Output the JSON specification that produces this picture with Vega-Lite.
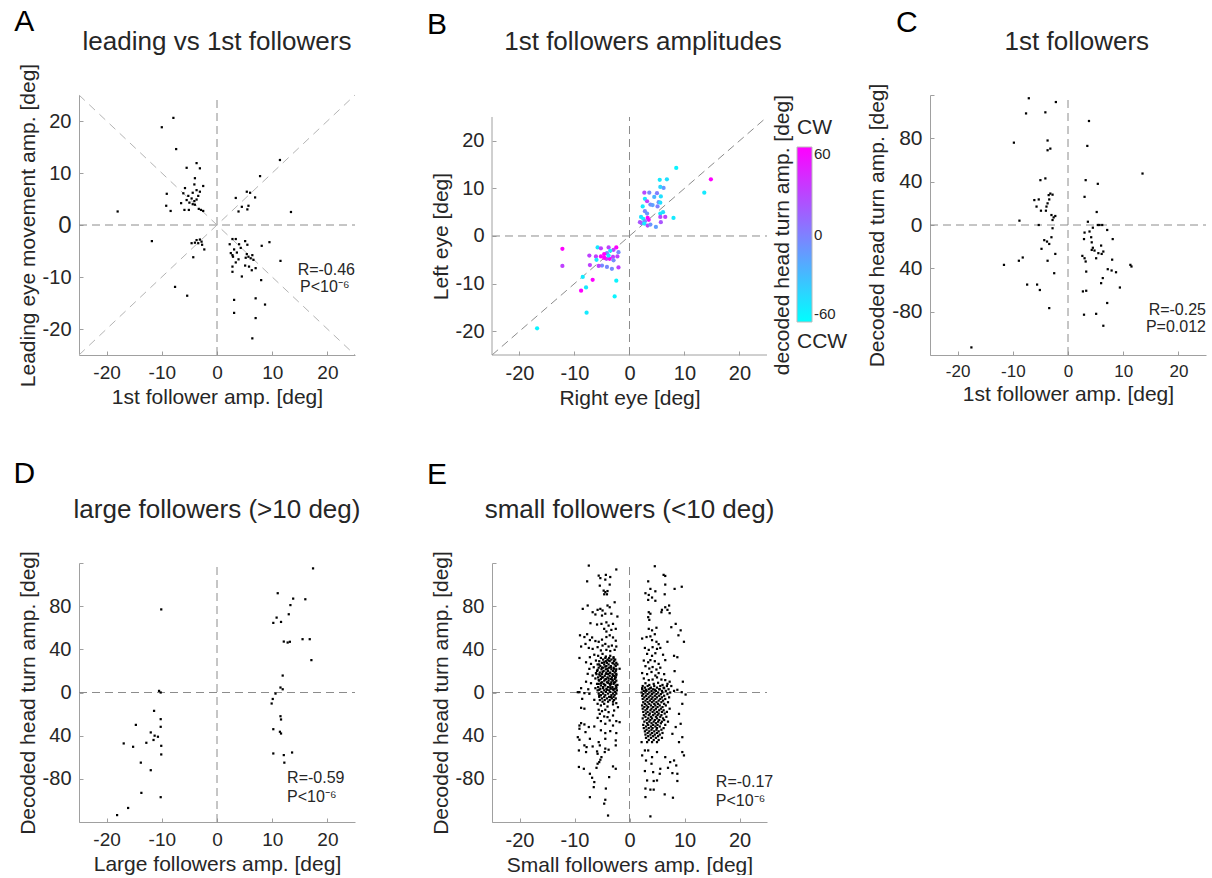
{
"$schema": "https://vega.github.io/schema/vega-lite/v6.json",
"padding": {"left": 13, "top": 7, "right": 0, "bottom": 0},
"bounds": "flush",
"columns": 3,
"spacing": {"row": 208, "column": 137},
"config": {
  "font": "Liberation Sans",
  "view": {"stroke": null},
  "axis": {"domainColor": "#a0a0a0", "tickColor": "#a0a0a0", "tickSize": -4, "grid": false, "labelOverlap": false, "labelFlush": false, "labelColor": "#262626", "titleColor": "#262626", "labelFontSize": 19, "titleFontSize": 21, "titleFontWeight": "normal", "labelFont": "Liberation Sans", "titleFont": "Liberation Sans", "labelPadding": 12, "titlePadding": 4},
  "text": {"font": "Liberation Sans", "color": "#262626"}
},
"datasets": {
"A": [{"x":-7.9,"y":20.6},{"x":-10.0,"y":18.8},{"x":-7.4,"y":14.6},{"x":-5.5,"y":11.0},{"x":-3.7,"y":11.9},{"x":-3.1,"y":10.9},{"x":-4.0,"y":9.0},{"x":-2.5,"y":7.5},{"x":-4.1,"y":7.8},{"x":-5.8,"y":7.1},{"x":-3.7,"y":6.7},{"x":-3.1,"y":6.4},{"x":-4.4,"y":6.2},{"x":-9.1,"y":6.0},{"x":-6.1,"y":6.1},{"x":-5.2,"y":5.6},{"x":-3.4,"y":5.6},{"x":-4.6,"y":5.1},{"x":-5.5,"y":4.8},{"x":-3.7,"y":4.9},{"x":-4.1,"y":4.6},{"x":-6.5,"y":4.2},{"x":-5.0,"y":4.3},{"x":-4.4,"y":4.0},{"x":-9.2,"y":3.7},{"x":-4.0,"y":3.9},{"x":-5.9,"y":2.9},{"x":-5.1,"y":2.9},{"x":-3.3,"y":3.1},{"x":-2.9,"y":2.9},{"x":-2.5,"y":2.7},{"x":-8.4,"y":2.7},{"x":-18.0,"y":2.6},
{"x":11.4,"y":12.5},{"x":7.8,"y":9.4},{"x":5.4,"y":6.4},{"x":6.0,"y":6.2},{"x":6.9,"y":5.3},{"x":3.4,"y":5.2},{"x":4.5,"y":3.5},{"x":5.7,"y":3.7},{"x":5.5,"y":3.0},{"x":3.9,"y":2.6},{"x":13.4,"y":2.5},
{"x":-11.8,"y":-3.1},{"x":-4.6,"y":-3.5},{"x":-3.7,"y":-2.9},{"x":-3.1,"y":-2.8},{"x":-2.8,"y":-3.2},{"x":-3.4,"y":-3.5},{"x":-4.0,"y":-3.4},{"x":-2.7,"y":-3.8},{"x":-2.3,"y":-4.7},{"x":-4.3,"y":-6.2},{"x":-7.6,"y":-11.9},{"x":-5.4,"y":-13.6},
{"x":2.8,"y":-2.7},{"x":3.4,"y":-2.7},{"x":2.3,"y":-3.7},{"x":4.0,"y":-3.7},{"x":5.1,"y":-3.1},{"x":4.3,"y":-4.4},{"x":5.5,"y":-3.8},{"x":9.5,"y":-3.3},{"x":8.1,"y":-4.0},{"x":2.5,"y":-5.4},{"x":2.8,"y":-5.8},{"x":3.1,"y":-4.7},{"x":3.6,"y":-5.3},{"x":2.9,"y":-6.1},{"x":3.9,"y":-6.6},{"x":3.4,"y":-7.2},{"x":2.8,"y":-8.0},{"x":2.8,"y":-9.0},{"x":5.4,"y":-5.6},{"x":5.7,"y":-6.1},{"x":5.2,"y":-6.3},{"x":6.1,"y":-6.4},{"x":6.4,"y":-5.8},{"x":6.6,"y":-6.7},{"x":5.1,"y":-7.8},{"x":5.8,"y":-8.0},{"x":7.0,"y":-8.3},{"x":6.3,"y":-8.7},{"x":4.5,"y":-9.9},{"x":8.0,"y":-10.6},{"x":11.5,"y":-6.9},{"x":3.1,"y":-14.4},{"x":3.1,"y":-16.9},{"x":7.0,"y":-14.1},{"x":8.7,"y":-15.3},{"x":7.0,"y":-17.9},{"x":6.4,"y":-21.8}],
"B": [{"x":8.5,"y":14.3,"h":-55},{"x":14.8,"y":11.9,"h":60},{"x":13.6,"y":9.1,"h":-50},{"x":5.5,"y":11.8,"h":-50},{"x":6.8,"y":11.9,"h":-45},{"x":6.2,"y":10.1,"h":-10},{"x":5.6,"y":10.3,"h":-40},{"x":2.7,"y":9.1,"h":25},{"x":3.6,"y":9.1,"h":-5},{"x":5.0,"y":9.0,"h":0},{"x":2.8,"y":7.8,"h":-50},{"x":3.2,"y":7.3,"h":30},{"x":4.5,"y":8.2,"h":-25},{"x":5.7,"y":8.3,"h":-45},{"x":5.3,"y":7.1,"h":-10},{"x":3.8,"y":6.6,"h":-5},{"x":4.2,"y":6.5,"h":-15},{"x":5.1,"y":6.2,"h":0},{"x":5.6,"y":7.0,"h":-45},{"x":2.4,"y":6.2,"h":-50},{"x":2.8,"y":5.2,"h":-5},{"x":3.2,"y":4.7,"h":-10},{"x":5.6,"y":4.7,"h":-50},{"x":6.1,"y":5.0,"h":-45},{"x":8.0,"y":3.8,"h":-50},{"x":2.1,"y":4.0,"h":-45},{"x":2.5,"y":3.6,"h":-55},{"x":3.3,"y":3.8,"h":60},{"x":3.5,"y":3.4,"h":55},{"x":2.8,"y":3.1,"h":-5},{"x":2.2,"y":2.7,"h":0},{"x":1.9,"y":2.9,"h":20},{"x":2.7,"y":2.6,"h":-50},{"x":3.3,"y":2.2,"h":25},{"x":3.8,"y":2.4,"h":-10},{"x":4.8,"y":1.9,"h":-15},{"x":5.7,"y":2.9,"h":20},{"x":6.5,"y":4.0,"h":30},{"x":5.6,"y":4.0,"h":25},
{"x":-12.2,"y":-2.7,"h":60},{"x":-12.2,"y":-6.3,"h":30},{"x":-8.5,"y":-8.6,"h":-50},{"x":-6.7,"y":-9.2,"h":60},{"x":-8.8,"y":-11.5,"h":60},{"x":-7.9,"y":-10.8,"h":-50},{"x":-7.8,"y":-16.1,"h":-50},{"x":-2.7,"y":-12.7,"h":-55},{"x":-2.4,"y":-9.4,"h":-55},{"x":-16.8,"y":-19.4,"h":-55},{"x":-5.8,"y":-2.4,"h":-50},{"x":-5.2,"y":-2.6,"h":30},{"x":-3.8,"y":-2.4,"h":30},{"x":-2.4,"y":-2.4,"h":60},{"x":-2.9,"y":-2.9,"h":30},{"x":-2.0,"y":-3.4,"h":-5},{"x":-2.2,"y":-4.3,"h":30},{"x":-3.5,"y":-3.1,"h":-50},{"x":-4.1,"y":-3.6,"h":-5},{"x":-4.6,"y":-3.8,"h":60},{"x":-5.2,"y":-4.3,"h":60},{"x":-6.1,"y":-4.3,"h":30},{"x":-7.3,"y":-4.1,"h":30},{"x":-6.0,"y":-5.0,"h":-50},{"x":-4.2,"y":-4.8,"h":30},{"x":-3.6,"y":-4.8,"h":60},{"x":-3.0,"y":-4.4,"h":30},{"x":-2.9,"y":-5.1,"h":-5},{"x":-5.0,"y":-6.2,"h":-5},{"x":-5.6,"y":-6.3,"h":30},{"x":-4.1,"y":-6.5,"h":-5},{"x":-3.2,"y":-6.9,"h":-5},{"x":-2.0,"y":-6.6,"h":30},{"x":-7.2,"y":-6.1,"h":30},{"x":-4.6,"y":-4.6,"h":60},{"x":-3.8,"y":-4.1,"h":-50}],
"C": [{"x":-7.1,"y":117},{"x":-2.2,"y":113.5},{"x":-7.6,"y":103},{"x":-4.1,"y":104},{"x":3.8,"y":96},{"x":-9.8,"y":76},{"x":3.5,"y":73},{"x":-3.7,"y":78},{"x":-3.2,"y":70.5},{"x":-3.7,"y":69},{"x":13.5,"y":47.5},{"x":-5.0,"y":41.4},{"x":-4.1,"y":43},{"x":3.2,"y":41.4},{"x":5.4,"y":38},{"x":-3.2,"y":29},{"x":-2.8,"y":28},{"x":-3.5,"y":27.6},{"x":3.0,"y":26},{"x":-6.1,"y":23},{"x":-5.3,"y":23.6},{"x":-3.4,"y":23.6},{"x":-5.7,"y":17},{"x":-3.7,"y":20},{"x":-3.9,"y":17},{"x":-4.9,"y":13.2},{"x":-4.0,"y":13.2},{"x":5.2,"y":12},{"x":-3.0,"y":9.2},{"x":-2.3,"y":8.3},{"x":-2.6,"y":7},{"x":-8.8,"y":4},{"x":-2.8,"y":4.6},{"x":3.6,"y":3},{"x":-5.3,"y":0},{"x":-2.8,"y":-3},{"x":5.4,"y":0},{"x":5.7,"y":0},{"x":6.2,"y":0},{"x":4.5,"y":-2.5},{"x":7.1,"y":-4.6},{"x":3.0,"y":-7},{"x":3.9,"y":-6},{"x":-3.0,"y":-11.3},{"x":8.1,"y":-13},{"x":2.9,"y":-13},{"x":4.2,"y":-11.3},{"x":-4.3,"y":-14},{"x":-3.8,"y":-15.3},{"x":-3.4,"y":-17.5},{"x":4.3,"y":-16},{"x":4.5,"y":-21},{"x":6.0,"y":-19},{"x":-4.8,"y":-22},{"x":4.3,"y":-23},{"x":4.8,"y":-23.6},{"x":6.4,"y":-24.5},{"x":5.5,"y":-26},{"x":6.1,"y":-26.7},{"x":-2.3,"y":-26.7},{"x":2.6,"y":-28.5},{"x":3.0,"y":-30.7},{"x":5.1,"y":-30.7},{"x":-8.2,"y":-30},{"x":-8.9,"y":-33},{"x":-3.7,"y":-33},{"x":3.2,"y":-33.7},{"x":-11.6,"y":-36.8},{"x":8.0,"y":-32},{"x":11.3,"y":-36.8},{"x":11.5,"y":-38.3},{"x":3.3,"y":-43},{"x":7.2,"y":-40.8},{"x":7.9,"y":-42},{"x":8.7,"y":-43.6},{"x":-2.5,"y":-44.5},{"x":6.3,"y":-49},{"x":-7.4,"y":-55},{"x":-5.6,"y":-55},{"x":-5.1,"y":-60},{"x":6.0,"y":-53.7},{"x":9.4,"y":-57.7},{"x":2.7,"y":-61.3},{"x":3.3,"y":-60.7},{"x":7.1,"y":-72},{"x":-3.4,"y":-76.7},{"x":2.9,"y":-82.8},{"x":5.1,"y":-82},{"x":6.4,"y":-93},{"x":-17.5,"y":-113}],
"D": [{"x":17.4,"y":115},{"x":11.0,"y":92},{"x":13.8,"y":87},{"x":16.0,"y":86.4},{"x":13.3,"y":81},{"x":-10.1,"y":77},{"x":13.0,"y":72.5},{"x":10.8,"y":69.4},{"x":11.6,"y":65.4},{"x":10.2,"y":64.5},{"x":12.1,"y":47.2},{"x":13.2,"y":47},{"x":12.8,"y":46.3},{"x":15.5,"y":49.4},{"x":16.8,"y":49.4},{"x":17.1,"y":30},{"x":11.9,"y":15.7},{"x":11.5,"y":4.6},{"x":11.9,"y":3},{"x":-10.5,"y":1.5},{"x":-10.2,"y":0},{"x":10.6,"y":-1},{"x":10.1,"y":-6},{"x":9.9,"y":-10.2},{"x":-11.4,"y":-17},{"x":11.5,"y":-22},{"x":11.6,"y":-25},{"x":-10.2,"y":-24.7},{"x":-14.7,"y":-30},{"x":-10.2,"y":-31.8},{"x":10.2,"y":-34},{"x":11.4,"y":-36.4},{"x":11.6,"y":-38},{"x":-12.0,"y":-37},{"x":-11.3,"y":-40},{"x":-10.7,"y":-41},{"x":-11.5,"y":-44},{"x":-12.8,"y":-46.6},{"x":-16.9,"y":-47.2},{"x":-15.2,"y":-50.3},{"x":-10.1,"y":-49.4},{"x":-10.1,"y":-57.4},{"x":10.2,"y":-56.5},{"x":13.6,"y":-55.6},{"x":12.1,"y":-58},{"x":12.2,"y":-65},{"x":-13.8,"y":-65},{"x":-12.0,"y":-72},{"x":-13.7,"y":-93},{"x":-10.2,"y":-97},{"x":-16.1,"y":-107},{"x":-18.1,"y":-113.6}],
"E": [{"x":-7.4,"y":117.6},{"x":-2.4,"y":114},{"x":-5.6,"y":108.3},{"x":-4.3,"y":109},{"x":-5.3,"y":106},{"x":-3.5,"y":107},{"x":-7.7,"y":103},{"x":-4.4,"y":104.6},{"x":-3.6,"y":100},{"x":-5.4,"y":99},{"x":-4.7,"y":94.4},{"x":-4.4,"y":93},{"x":-4.0,"y":94},{"x":-4.6,"y":91},{"x":-4.1,"y":91},{"x":-2.7,"y":83.6},{"x":-7.6,"y":80.6},{"x":-8.5,"y":77.5},{"x":-6.7,"y":74.4},{"x":-5.8,"y":76.6},{"x":-5.3,"y":77.5},{"x":-4.9,"y":76},{"x":-4.0,"y":80.6},{"x":-3.6,"y":79},{"x":-4.4,"y":73},{"x":-3.3,"y":73},{"x":-2.2,"y":70.4},{"x":-6.2,"y":72.3},{"x":-5.0,"y":71.3},{"x":-7.1,"y":64.2},{"x":-5.9,"y":63},{"x":-4.2,"y":65},{"x":-5.1,"y":63.6},{"x":-3.8,"y":62},{"x":-3.0,"y":63.6},{"x":-4.6,"y":59},{"x":-4.2,"y":56.5},{"x":-3.3,"y":58},{"x":-2.5,"y":59},{"x":-9.0,"y":53},{"x":-8.2,"y":51.4},{"x":-7.7,"y":54},{"x":-6.8,"y":51},{"x":-7.2,"y":48.6},{"x":-6.2,"y":47.7},{"x":-5.6,"y":47},{"x":-5.0,"y":49},{"x":-4.2,"y":51.4},{"x":-3.6,"y":53},{"x":-3.0,"y":51},{"x":-2.5,"y":48},{"x":-8.8,"y":42.6},{"x":-8.0,"y":45},{"x":-7.4,"y":41.3},{"x":-6.7,"y":40.4},{"x":-5.8,"y":42},{"x":-4.9,"y":43.5},{"x":-4.4,"y":45},{"x":-3.8,"y":42.6},{"x":-3.2,"y":43.5},{"x":-2.4,"y":42.6},{"x":-5.2,"y":39},{"x":-4.2,"y":39.5},{"x":-3.5,"y":38.4},{"x":-2.7,"y":39.5},{"x":-9.1,"y":32},{"x":-7.2,"y":32.7},{"x":-6.4,"y":35},{"x":-5.7,"y":34},{"x":-4.9,"y":35.8},{"x":-4.3,"y":33.3},{"x":-3.5,"y":34},{"x":-2.9,"y":32.7},{"x":-7.9,"y":28},{"x":-7.0,"y":26.5},{"x":-6.1,"y":29.6},{"x":-5.5,"y":26},{"x":-4.6,"y":28},{"x":-3.8,"y":29.6},{"x":-3.0,"y":27},{"x":-2.2,"y":26},{"x":-7.3,"y":21.9},{"x":-6.5,"y":23.4},{"x":-5.8,"y":21},{"x":-5.0,"y":23},{"x":-4.4,"y":24},{"x":-4.0,"y":22},{"x":-3.4,"y":23.4},{"x":-2.8,"y":22},{"x":-1.8,"y":22},{"x":-7.6,"y":17.3},{"x":-6.7,"y":15.7},{"x":-6.1,"y":18},{"x":-5.5,"y":16.7},{"x":-4.9,"y":19},{"x":-4.3,"y":17.3},{"x":-3.6,"y":18},{"x":-3.0,"y":15.7},{"x":-2.4,"y":17.3},{"x":-6.2,"y":13},{"x":-5.6,"y":11.5},{"x":-5.0,"y":14},{"x":-4.4,"y":12},{"x":-3.8,"y":13},{"x":-3.2,"y":12},{"x":-2.6,"y":14},{"x":-7.9,"y":10},{"x":-7.0,"y":8.6},{"x":-5.9,"y":8},{"x":-5.2,"y":8.6},{"x":-4.5,"y":7},{"x":-3.9,"y":9},{"x":-3.4,"y":8},{"x":-2.8,"y":9},{"x":-2.2,"y":7},{"x":-8.8,"y":4},{"x":-7.5,"y":3},{"x":-6.2,"y":4},{"x":-5.5,"y":2.5},{"x":-4.8,"y":4},{"x":-4.1,"y":2.5},{"x":-3.5,"y":4.6},{"x":-3.0,"y":3},{"x":-2.4,"y":4},{"x":-9.4,"y":0.3},
{"x":-5.2,"y":32},{"x":-4.4,"y":32},{"x":-3.7,"y":32},{"x":-2.9,"y":31.5},{"x":-4.8,"y":30.5},{"x":-4.0,"y":30.5},{"x":-3.3,"y":30.5},{"x":-2.6,"y":30.5},{"x":-5.5,"y":29},{"x":-4.3,"y":29},{"x":-3.6,"y":29},{"x":-2.8,"y":29},{"x":-5.0,"y":27.5},{"x":-4.1,"y":27.5},{"x":-3.1,"y":27.5},{"x":-2.4,"y":27.5},{"x":-5.8,"y":26},{"x":-4.6,"y":26},{"x":-3.8,"y":26},{"x":-2.7,"y":26},{"x":-5.3,"y":24.5},{"x":-4.2,"y":24.5},{"x":-3.4,"y":24.5},{"x":-2.5,"y":24.5},{"x":-5.6,"y":23},{"x":-4.8,"y":23},{"x":-3.7,"y":23},{"x":-2.9,"y":23},{"x":-5.1,"y":21.5},{"x":-4.3,"y":21.5},{"x":-3.3,"y":21.5},{"x":-2.4,"y":21.5},{"x":-5.9,"y":20},{"x":-4.7,"y":20},{"x":-3.9,"y":20},{"x":-3.0,"y":20},{"x":-2.5,"y":20},{"x":-5.4,"y":18.5},{"x":-4.2,"y":18.5},{"x":-3.5,"y":18.5},{"x":-2.7,"y":18.5},{"x":-6.0,"y":17},{"x":-5.0,"y":17},{"x":-3.9,"y":17},{"x":-3.1,"y":17},{"x":-2.4,"y":16},{"x":-5.3,"y":15.5},{"x":-4.5,"y":15.5},{"x":-3.6,"y":15.5},{"x":-2.8,"y":15.5},{"x":-5.7,"y":14},{"x":-4.8,"y":14},{"x":-4.0,"y":14},{"x":-3.2,"y":14},{"x":-2.5,"y":14},{"x":-5.2,"y":12.5},{"x":-4.3,"y":12.5},{"x":-3.4,"y":12.5},{"x":-2.7,"y":12.5},{"x":-5.5,"y":11},{"x":-4.6,"y":11},{"x":-3.8,"y":11},{"x":-3.0,"y":11},{"x":-2.4,"y":11},{"x":-5.0,"y":9.5},{"x":-4.1,"y":9.5},{"x":-3.3,"y":9.5},{"x":-2.6,"y":9.5},{"x":-5.6,"y":8},{"x":-4.7,"y":8},{"x":-3.6,"y":8},{"x":-2.9,"y":8},{"x":-5.2,"y":6.5},{"x":-4.4,"y":6.5},{"x":-3.5,"y":6.5},{"x":-2.5,"y":6.5},{"x":-5.7,"y":5},{"x":-4.8,"y":5},{"x":-3.9,"y":5},{"x":-3.1,"y":5},{"x":-2.4,"y":5.5},{"x":-5.3,"y":3.5},{"x":-4.2,"y":3.5},{"x":-3.4,"y":3.5},{"x":-2.7,"y":3.5},{"x":-5.8,"y":2},{"x":-4.6,"y":2},{"x":-3.7,"y":2},{"x":-2.9,"y":2},{"x":-2.3,"y":2},{"x":-5.1,"y":0.5},{"x":-4.3,"y":0.5},{"x":-3.5,"y":0.5},{"x":-2.6,"y":0.5},{"x":-5.6,"y":-1},{"x":-4.8,"y":-1},{"x":-3.9,"y":-1},{"x":-3.0,"y":-1},{"x":-2.4,"y":-1},{"x":-5.2,"y":-2.5},{"x":-4.4,"y":-2.5},{"x":-3.3,"y":-2.5},{"x":-2.7,"y":-2.5},{"x":-5.5,"y":-4},{"x":-4.6,"y":-4},{"x":-3.7,"y":-4},{"x":-2.9,"y":-4},{"x":-5.0,"y":-5.5},{"x":-4.1,"y":-5.5},{"x":-3.2,"y":-5.5},{"x":-2.5,"y":-5.5},{"x":-5.4,"y":-7},{"x":-4.5,"y":-7},{"x":-3.6,"y":-7},{"x":-2.8,"y":-7},{"x":-4.9,"y":-8.5},{"x":-3.9,"y":-8.5},{"x":-3.0,"y":-8.5},
{"x":-9.1,"y":0.3},{"x":-8.2,"y":-0.6},{"x":-7.3,"y":-1.2},{"x":-5.5,"y":-2.8},{"x":-3.4,"y":-4.3},{"x":-8.6,"y":-5.9},{"x":-6.4,"y":-6.8},{"x":-5.8,"y":-10.5},{"x":-5.2,"y":-12},{"x":-4.6,"y":-10.5},{"x":-4.0,"y":-13},{"x":-3.0,"y":-11},{"x":-2.4,"y":-9.9},{"x":-2.1,"y":-13.6},{"x":-8.8,"y":-14.2},{"x":-8.2,"y":-15},{"x":-5.6,"y":-16},{"x":-5.0,"y":-17.3},{"x":-4.4,"y":-16},{"x":-3.8,"y":-18.2},{"x":-2.8,"y":-16.7},{"x":-5.4,"y":-19.8},{"x":-4.6,"y":-22.2},{"x":-5.8,"y":-23.5},{"x":-4.0,"y":-22.8},{"x":-3.0,"y":-21.3},{"x":-5.2,"y":-26.5},{"x":-3.6,"y":-25.9},{"x":-2.4,"y":-26.5},{"x":-1.8,"y":-27.5},{"x":-8.8,"y":-28.4},{"x":-9.1,"y":-30.6},{"x":-8.2,"y":-29.6},{"x":-7.4,"y":-32},{"x":-6.4,"y":-31.5},{"x":-4.4,"y":-29},{"x":-3.0,"y":-30.6},{"x":-9.1,"y":-33.6},{"x":-8.0,"y":-36.7},{"x":-5.2,"y":-35},{"x":-4.4,"y":-37.6},{"x":-3.5,"y":-35.8},{"x":-2.4,"y":-37.6},{"x":-9.4,"y":-41.4},{"x":-9.1,"y":-43.8},{"x":-7.2,"y":-42.9},{"x":-5.6,"y":-46},{"x":-4.4,"y":-42.9},{"x":-2.5,"y":-44.4},{"x":-8.2,"y":-49},{"x":-7.8,"y":-50.6},{"x":-6.7,"y":-50},{"x":-5.4,"y":-49},{"x":-4.4,"y":-52},{"x":-3.8,"y":-53},{"x":-2.5,"y":-49},{"x":-9.2,"y":-53.7},{"x":-7.9,"y":-55.2},{"x":-5.9,"y":-54.6},{"x":-5.8,"y":-56.8},{"x":-4.5,"y":-55.2},{"x":-5.1,"y":-59.9},{"x":-5.3,"y":-62.3},{"x":-5.5,"y":-64.5},{"x":-5.8,"y":-66},{"x":-9.2,"y":-69},{"x":-8.3,"y":-70.7},{"x":-6.0,"y":-69.8},{"x":-3.0,"y":-68.5},{"x":-2.5,"y":-70.7},{"x":-7.2,"y":-75.3},{"x":-6.8,"y":-79},{"x":-6.4,"y":-83},{"x":-6.5,"y":-87.7},{"x":-3.7,"y":-78.4},{"x":-4.3,"y":-89},{"x":-7.2,"y":-97},{"x":-4.4,"y":-99.4},{"x":-4.6,"y":-103},{"x":-3.9,"y":-114},
{"x":4.6,"y":117},{"x":6.2,"y":109},{"x":6.5,"y":108},{"x":3.4,"y":103},{"x":6.5,"y":100},{"x":8.2,"y":96},{"x":9.5,"y":98},{"x":3.8,"y":96},{"x":4.7,"y":93.8},{"x":2.9,"y":92},{"x":3.5,"y":90.4},{"x":6.4,"y":91},{"x":4.1,"y":88},{"x":4.7,"y":85},{"x":3.4,"y":85.8},{"x":6.5,"y":79},{"x":7.2,"y":80.6},{"x":5.9,"y":76.6},{"x":5.8,"y":74.4},{"x":6.9,"y":76.6},{"x":7.3,"y":73.5},{"x":3.5,"y":74.4},{"x":3.8,"y":73},{"x":3.4,"y":69.8},{"x":3.6,"y":67.3},{"x":8.4,"y":63.6},{"x":7.6,"y":60.5},{"x":9.3,"y":57.6},{"x":3.5,"y":59},{"x":4.1,"y":57.6},{"x":4.9,"y":60},{"x":8.9,"y":53},{"x":9.9,"y":47},{"x":2.3,"y":50},{"x":3.1,"y":51.4},{"x":3.8,"y":52},{"x":4.6,"y":54},{"x":4.1,"y":48.5},{"x":4.9,"y":47},{"x":5.3,"y":44.8},{"x":6.9,"y":47},{"x":2.8,"y":41.3},{"x":3.5,"y":39.5},{"x":4.2,"y":42},{"x":5.0,"y":40.4},{"x":5.6,"y":41.3},{"x":3.2,"y":35.8},{"x":4.1,"y":34},{"x":4.7,"y":36.4},{"x":6.1,"y":35},{"x":8.1,"y":34},{"x":8.7,"y":32.7},{"x":2.6,"y":29.6},{"x":3.4,"y":28},{"x":3.8,"y":30},{"x":4.6,"y":29},{"x":5.3,"y":26.5},{"x":6.5,"y":30},{"x":2.9,"y":24.4},{"x":3.6,"y":22.2},{"x":4.2,"y":23.6},{"x":4.9,"y":21.3},{"x":5.6,"y":23},{"x":8.2,"y":19.8},{"x":2.3,"y":18},{"x":3.2,"y":17},{"x":4.0,"y":19},{"x":4.7,"y":15.7},{"x":5.3,"y":18},{"x":6.3,"y":17},{"x":2.6,"y":13},{"x":3.5,"y":11.5},{"x":4.2,"y":12},{"x":5.0,"y":14},{"x":5.8,"y":12},{"x":6.5,"y":11.5},{"x":7.3,"y":10},{"x":9.7,"y":10},{"x":2.9,"y":8.6},{"x":3.6,"y":7},{"x":4.4,"y":8},{"x":5.2,"y":9},{"x":6.0,"y":7},{"x":6.9,"y":8},{"x":7.6,"y":6},{"x":2.3,"y":4},{"x":3.0,"y":2.5},{"x":3.8,"y":4},{"x":4.6,"y":2.5},{"x":5.5,"y":3},{"x":6.3,"y":4},{"x":8.1,"y":1.5},{"x":8.7,"y":2.5},
{"x":9.5,"y":0.3},{"x":10.2,"y":-1.9},{"x":9.6,"y":-10.5},{"x":9.0,"y":-19.8},{"x":9.3,"y":-29},{"x":8.4,"y":-32},{"x":7.8,"y":-38.3},{"x":9.6,"y":-41.4},{"x":9.0,"y":-46},{"x":2.2,"y":-46},{"x":2.8,"y":-53.7},{"x":3.4,"y":-53.7},{"x":9.6,"y":-55.2},{"x":9.9,"y":-58.3},{"x":2.3,"y":-58.3},{"x":3.0,"y":-63},{"x":4.1,"y":-59.9},{"x":5.0,"y":-55.2},{"x":6.5,"y":-59.9},{"x":7.4,"y":-64.5},{"x":8.1,"y":-63},{"x":8.5,"y":-67.6},{"x":4.0,"y":-66},{"x":5.6,"y":-70.7},{"x":7.0,"y":-69.8},{"x":2.8,"y":-72.8},{"x":4.3,"y":-73.8},{"x":5.5,"y":-75.3},{"x":7.8,"y":-74.7},{"x":8.7,"y":-75.3},{"x":3.2,"y":-81.5},{"x":4.4,"y":-82},{"x":5.0,"y":-81.5},{"x":8.7,"y":-82},{"x":3.8,"y":-90},{"x":4.4,"y":-90},{"x":2.9,"y":-96.9},{"x":6.4,"y":-94.4},{"x":7.9,"y":-97.5},{"x":3.8,"y":-114.8},{"x":2.9,"y":-89},
{"x":2.4,"y":6},{"x":3.3,"y":6},{"x":4.5,"y":6},{"x":5.6,"y":6},{"x":6.8,"y":6},{"x":2.8,"y":4.5},{"x":3.9,"y":4.5},{"x":5.0,"y":4.5},{"x":6.2,"y":4.5},{"x":2.3,"y":3},{"x":3.5,"y":3},{"x":4.3,"y":3},{"x":5.4,"y":3},{"x":7.1,"y":3},{"x":2.6,"y":1.5},{"x":3.1,"y":1.5},{"x":4.0,"y":1.5},{"x":4.8,"y":1.5},{"x":5.9,"y":1.5},{"x":6.6,"y":1.5},{"x":2.2,"y":0},{"x":2.9,"y":0},{"x":3.6,"y":0},{"x":4.4,"y":0},{"x":5.2,"y":0},{"x":6.0,"y":0},{"x":7.4,"y":0},{"x":2.5,"y":-1.5},{"x":3.3,"y":-1.5},{"x":4.1,"y":-1.5},{"x":4.9,"y":-1.5},{"x":5.7,"y":-1.5},{"x":6.9,"y":-1.5},{"x":2.3,"y":-3},{"x":3.0,"y":-3},{"x":3.8,"y":-3},{"x":4.6,"y":-3},{"x":5.4,"y":-3},{"x":6.3,"y":-3},{"x":2.7,"y":-4.5},{"x":3.5,"y":-4.5},{"x":4.2,"y":-4.5},{"x":5.0,"y":-4.5},{"x":5.9,"y":-4.5},{"x":7.2,"y":-4.5},{"x":2.4,"y":-6},{"x":3.2,"y":-6},{"x":4.0,"y":-6},{"x":4.7,"y":-6},{"x":5.6,"y":-6},{"x":6.5,"y":-6},{"x":2.9,"y":-7.5},{"x":3.7,"y":-7.5},{"x":4.4,"y":-7.5},{"x":5.3,"y":-7.5},{"x":6.1,"y":-7.5},{"x":2.5,"y":-9},{"x":3.3,"y":-9},{"x":4.1,"y":-9},{"x":4.9,"y":-9},{"x":5.8,"y":-9},{"x":7.0,"y":-9},{"x":2.8,"y":-10.5},{"x":3.6,"y":-10.5},{"x":4.5,"y":-10.5},{"x":5.2,"y":-10.5},{"x":6.3,"y":-10.5},{"x":2.3,"y":-12},{"x":3.1,"y":-12},{"x":3.9,"y":-12},{"x":4.7,"y":-12},{"x":5.5,"y":-12},{"x":6.6,"y":-12},{"x":2.7,"y":-13.5},{"x":3.4,"y":-13.5},{"x":4.3,"y":-13.5},{"x":5.1,"y":-13.5},{"x":6.0,"y":-13.5},{"x":2.4,"y":-15},{"x":3.2,"y":-15},{"x":4.0,"y":-15},{"x":4.8,"y":-15},{"x":5.7,"y":-15},{"x":7.3,"y":-15},{"x":2.9,"y":-16.5},{"x":3.8,"y":-16.5},{"x":4.5,"y":-16.5},{"x":5.4,"y":-16.5},{"x":6.2,"y":-16.5},{"x":2.5,"y":-18},{"x":3.3,"y":-18},{"x":4.2,"y":-18},{"x":5.0,"y":-18},{"x":5.9,"y":-18},{"x":6.8,"y":-18},{"x":3.0,"y":-19.5},{"x":3.7,"y":-19.5},{"x":4.6,"y":-19.5},{"x":5.3,"y":-19.5},{"x":6.4,"y":-19.5},{"x":2.6,"y":-21},{"x":3.5,"y":-21},{"x":4.3,"y":-21},{"x":5.1,"y":-21},{"x":5.8,"y":-21},{"x":2.9,"y":-22.5},{"x":3.9,"y":-22.5},{"x":4.8,"y":-22.5},{"x":5.6,"y":-22.5},{"x":6.7,"y":-22.5},{"x":2.4,"y":-24},{"x":3.4,"y":-24},{"x":4.1,"y":-24},{"x":5.0,"y":-24},{"x":6.1,"y":-24},{"x":3.1,"y":-25.5},{"x":3.8,"y":-25.5},{"x":4.6,"y":-25.5},{"x":5.4,"y":-25.5},{"x":6.3,"y":-25.5},{"x":2.7,"y":-27},{"x":3.6,"y":-27},{"x":4.4,"y":-27},{"x":5.2,"y":-27},{"x":5.9,"y":-27},{"x":7.0,"y":-27},{"x":3.2,"y":-28.5},{"x":4.0,"y":-28.5},{"x":4.8,"y":-28.5},{"x":5.7,"y":-28.5},{"x":2.5,"y":-30},{"x":3.4,"y":-30},{"x":4.3,"y":-30},{"x":5.1,"y":-30},{"x":6.5,"y":-30},{"x":3.0,"y":-31.5},{"x":3.9,"y":-31.5},{"x":4.7,"y":-31.5},{"x":5.5,"y":-31.5},{"x":2.6,"y":-33},{"x":3.5,"y":-33},{"x":4.2,"y":-33},{"x":5.0,"y":-33},{"x":6.2,"y":-33},{"x":3.1,"y":-34.5},{"x":4.0,"y":-34.5},{"x":4.9,"y":-34.5},{"x":5.8,"y":-34.5},{"x":2.8,"y":-36},{"x":3.6,"y":-36},{"x":4.5,"y":-36},{"x":5.3,"y":-36},{"x":3.3,"y":-37.5},{"x":4.1,"y":-37.5},{"x":5.0,"y":-37.5},{"x":6.0,"y":-37.5},{"x":2.9,"y":-39},{"x":3.8,"y":-39},{"x":4.6,"y":-39},{"x":5.5,"y":-39},{"x":3.4,"y":-40.5},{"x":4.3,"y":-40.5},{"x":5.2,"y":-40.5},{"x":3.0,"y":-42},{"x":3.9,"y":-42},{"x":4.8,"y":-42},{"x":5.9,"y":-42},{"x":3.5,"y":-44},{"x":4.4,"y":-44},{"x":5.3,"y":-44},{"x":3.2,"y":-46},{"x":4.1,"y":-46},{"x":5.0,"y":-46}]
},
"concat": [
{
 "width": 276, "height": 260,
 "layer": [
  {"data": {"values": [{"x":-25,"y":0,"x2":25,"y2":0},{"x":0,"y":-25,"x2":0,"y2":25}]}, "mark": {"type": "rule", "color": "#8c8c8c", "strokeDash": [8,5], "strokeWidth": 1}, "encoding": {"x": {"field": "x", "type": "quantitative"}, "y": {"field": "y", "type": "quantitative"}, "x2": {"field": "x2"}, "y2": {"field": "y2"}}},
  {"data": {"values": [{"x":-25,"y":-25,"x2":25,"y2":25},{"x":-25,"y":25,"x2":25,"y2":-25}]}, "mark": {"type": "rule", "color": "#b4b4b4", "strokeDash": [8,6], "strokeWidth": 1}, "encoding": {"x": {"field": "x", "type": "quantitative"}, "y": {"field": "y", "type": "quantitative"}, "x2": {"field": "x2"}, "y2": {"field": "y2"}}},
  {"data": {"name": "A"}, "mark": {"type": "square", "size": 5, "color": "#000000", "opacity": 1},
   "encoding": {
    "x": {"field": "x", "type": "quantitative", "scale": {"domain": [-25, 25], "nice": false, "zero": false}, "axis": {"title": "1st follower amp. [deg]", "values": [-20,-10,0,10,20], "labelExpr": "'' + datum.value"}},
    "y": {"field": "y", "type": "quantitative", "scale": {"domain": [-25, 25], "nice": false, "zero": false}, "axis": {"title": "Leading eye movement amp. [deg]", "values": [-20,-10,0,10,20], "labelExpr": "'' + datum.value", "labelFontSize": {"condition": {"test": "datum.value == 0", "value": 24}, "value": 20}}}
   }},
  {"data": {"values": [{}]}, "mark": {"type": "text", "text": "A", "fontSize": 30, "align": "center", "baseline": "middle", "color": "#000000"}, "encoding": {"x": {"datum": -34.9}, "y": {"datum": 39.0}}},
  {"data": {"values": [{}]}, "mark": {"type": "text", "text": "leading vs 1st followers", "fontSize": 26, "align": "center", "baseline": "alphabetic"}, "encoding": {"x": {"datum": 0}, "y": {"datum": 33.65}}},
  {"data": {"values": [{}]}, "mark": {"type": "text", "text": "R=-0.46", "fontSize": 16, "align": "right", "baseline": "middle"}, "encoding": {"x": {"datum": 25}, "y": {"datum": -8.65}}},
  {"data": {"values": [{}]}, "mark": {"type": "text", "text": "P<10⁻⁶", "fontSize": 16, "align": "right", "baseline": "middle"}, "encoding": {"x": {"datum": 24}, "y": {"datum": -11.9}}}
 ]
},
{
 "width": 301, "height": 260,
 "layer": [
  {"data": {"values": [{"x":-25,"y":0,"x2":25,"y2":0},{"x":0,"y":-25,"x2":0,"y2":25},{"x":-25,"y":-25,"x2":25,"y2":25}]}, "mark": {"type": "rule", "color": "#8c8c8c", "strokeDash": [8,5], "strokeWidth": 1}, "encoding": {"x": {"field": "x", "type": "quantitative"}, "y": {"field": "y", "type": "quantitative"}, "x2": {"field": "x2"}, "y2": {"field": "y2"}}},
  {"data": {"values": [{"x":-25,"y":-25,"x2":25,"y2":-25},{"x":-25,"y":-25,"x2":-25,"y2":25}]}, "mark": {"type": "rule", "color": "#a0a0a0", "strokeWidth": 1}, "encoding": {"x": {"field": "x", "type": "quantitative"}, "y": {"field": "y", "type": "quantitative"}, "x2": {"field": "x2"}, "y2": {"field": "y2"}}},
  {"data": {"name": "B"}, "mark": {"type": "circle", "size": 18, "opacity": 1},
   "encoding": {
    "x": {"field": "x", "type": "quantitative", "scale": {"domain": [-25, 29.73], "nice": false, "zero": false}, "axis": {"title": "Right eye [deg]", "domain": false, "values": [-20,-10,0,10,20], "labelExpr": "'' + datum.value", "labelFontSize": 20, "titleX": 137.5}},
    "y": {"field": "y", "type": "quantitative", "scale": {"domain": [-25, 29.62], "nice": false, "zero": false}, "axis": {"title": "Left eye [deg]", "domain": false, "values": [-20,-10,0,10,20], "labelExpr": "'' + datum.value", "labelFontSize": 20, "titleY": 141}},
    "color": {"field": "h", "type": "quantitative", "scale": {"domain": [-60, 60], "range": ["#00ffff", "#ff00ff"], "interpolate": "rgb"},
      "legend": {"title": null, "direction": "vertical", "orient": "none", "legendX": 718, "legendY": 52, "gradientLength": 175, "gradientThickness": 15, "values": [-60, 0, 60], "labelExpr": "'' + datum.value", "labelFontSize": 15, "labelColor": "#262626", "labelFont": "Liberation Sans", "gradientStrokeColor": "#bbbbbb", "gradientStrokeWidth": 1}}
   }},
  {"data": {"values": [{}]}, "mark": {"type": "text", "text": "B", "fontSize": 30, "align": "center", "baseline": "middle", "color": "#000000"}, "encoding": {"x": {"datum": -35}, "y": {"datum": 44.3}}},
  {"data": {"values": [{}]}, "mark": {"type": "text", "text": "1st followers amplitudes", "fontSize": 26, "align": "center", "baseline": "alphabetic"}, "encoding": {"x": {"datum": 2.45}, "y": {"datum": 39.1}}},
  {"data": {"values": [{}]}, "mark": {"type": "text", "text": "decoded head turn amp. [deg]", "fontSize": 21, "angle": 270, "align": "center", "baseline": "middle"}, "encoding": {"x": {"datum": 27.9}, "y": {"datum": 0.2}}},
  {"data": {"values": [{}]}, "mark": {"type": "text", "text": "CW", "fontSize": 21, "align": "left", "baseline": "middle"}, "encoding": {"x": {"datum": 30.45}, "y": {"datum": 22.7}}},
  {"data": {"values": [{}]}, "mark": {"type": "text", "text": "CCW", "fontSize": 21, "align": "left", "baseline": "middle"}, "encoding": {"x": {"datum": 30.45}, "y": {"datum": -22.3}}}
 ]
},
{
 "width": 276, "height": 260,
 "layer": [
  {"data": {"values": [{"x":-25,"y":0,"x2":25,"y2":0},{"x":0,"y":-120,"x2":0,"y2":120}]}, "mark": {"type": "rule", "color": "#8c8c8c", "strokeDash": [8,5], "strokeWidth": 1}, "encoding": {"x": {"field": "x", "type": "quantitative"}, "y": {"field": "y", "type": "quantitative"}, "x2": {"field": "x2"}, "y2": {"field": "y2"}}},
  {"data": {"name": "C"}, "mark": {"type": "square", "size": 5, "color": "#000000", "opacity": 1},
   "encoding": {
    "x": {"field": "x", "type": "quantitative", "scale": {"domain": [-25, 25], "nice": false, "zero": false}, "axis": {"title": "1st follower amp. [deg]", "values": [-20,-10,0,10,20], "labelExpr": "'' + datum.value", "labelFontSize": 17}},
    "y": {"field": "y", "type": "quantitative", "scale": {"domain": [-120, 120], "nice": false, "zero": false}, "axis": {"title": "Decoded head turn amp. [deg]", "values": [-120,-80,-40,0,40,80,120], "labelExpr": "abs(datum.value) > 100 ? '' : datum.value == -40 ? '40' : '' + datum.value", "labelFontSize": 21}}
   }},
  {"data": {"values": [{}]}, "mark": {"type": "text", "text": "C", "fontSize": 30, "align": "center", "baseline": "middle", "color": "#000000"}, "encoding": {"x": {"datum": -29.2}, "y": {"datum": 186.5}}},
  {"data": {"values": [{}]}, "mark": {"type": "text", "text": "1st followers", "fontSize": 26, "align": "center", "baseline": "alphabetic"}, "encoding": {"x": {"datum": 1.6}, "y": {"datum": 161.5}}},
  {"data": {"values": [{}]}, "mark": {"type": "text", "text": "R=-0.25", "fontSize": 16, "align": "right", "baseline": "middle"}, "encoding": {"x": {"datum": 25}, "y": {"datum": -78.5}}},
  {"data": {"values": [{}]}, "mark": {"type": "text", "text": "P=0.012", "fontSize": 16, "align": "right", "baseline": "middle"}, "encoding": {"x": {"datum": 25}, "y": {"datum": -94.2}}}
 ]
},
{
 "width": 276, "height": 259,
 "layer": [
  {"data": {"values": [{"x":-25,"y":0,"x2":25,"y2":0},{"x":0,"y":-120,"x2":0,"y2":120}]}, "mark": {"type": "rule", "color": "#8c8c8c", "strokeDash": [8,5], "strokeWidth": 1}, "encoding": {"x": {"field": "x", "type": "quantitative"}, "y": {"field": "y", "type": "quantitative"}, "x2": {"field": "x2"}, "y2": {"field": "y2"}}},
  {"data": {"name": "D"}, "mark": {"type": "square", "size": 5, "color": "#000000", "opacity": 1},
   "encoding": {
    "x": {"field": "x", "type": "quantitative", "scale": {"domain": [-25, 25], "nice": false, "zero": false}, "axis": {"title": "Large followers amp. [deg]", "values": [-20,-10,0,10,20], "labelExpr": "'' + datum.value"}},
    "y": {"field": "y", "type": "quantitative", "scale": {"domain": [-120, 120], "nice": false, "zero": false}, "axis": {"title": "Decoded head turn amp. [deg]", "values": [-120,-80,-40,0,40,80,120], "labelExpr": "abs(datum.value) > 100 ? '' : datum.value == -40 ? '40' : '' + datum.value", "labelFontSize": 20}}
   }},
  {"data": {"values": [{}]}, "mark": {"type": "text", "text": "D", "fontSize": 30, "align": "center", "baseline": "middle", "color": "#000000"}, "encoding": {"x": {"datum": -34.9}, "y": {"datum": 202.5}}},
  {"data": {"values": [{}]}, "mark": {"type": "text", "text": "large followers (>10 deg)", "fontSize": 26, "align": "center", "baseline": "alphabetic"}, "encoding": {"x": {"datum": 0}, "y": {"datum": 161.7}}},
  {"data": {"values": [{}]}, "mark": {"type": "text", "text": "R=-0.59", "fontSize": 16, "align": "left", "baseline": "middle"}, "encoding": {"x": {"datum": 12.7}, "y": {"datum": -79.2}}},
  {"data": {"values": [{}]}, "mark": {"type": "text", "text": "P<10⁻⁶", "fontSize": 16, "align": "left", "baseline": "middle"}, "encoding": {"x": {"datum": 12.7}, "y": {"datum": -96.9}}}
 ]
},
{
 "width": 275, "height": 259,
 "layer": [
  {"data": {"values": [{"x":-25,"y":0,"x2":25,"y2":0},{"x":0,"y":-120,"x2":0,"y2":120}]}, "mark": {"type": "rule", "color": "#8c8c8c", "strokeDash": [8,5], "strokeWidth": 1}, "encoding": {"x": {"field": "x", "type": "quantitative"}, "y": {"field": "y", "type": "quantitative"}, "x2": {"field": "x2"}, "y2": {"field": "y2"}}},
  {"data": {"name": "E"}, "mark": {"type": "square", "size": 5, "color": "#000000", "opacity": 1},
   "encoding": {
    "x": {"field": "x", "type": "quantitative", "scale": {"domain": [-25, 25], "nice": false, "zero": false}, "axis": {"title": "Small followers amp. [deg]", "values": [-20,-10,0,10,20], "labelExpr": "'' + datum.value", "labelFontSize": 20}},
    "y": {"field": "y", "type": "quantitative", "scale": {"domain": [-120, 120], "nice": false, "zero": false}, "axis": {"title": "Decoded head turn amp. [deg]", "values": [-120,-80,-40,0,40,80,120], "labelExpr": "abs(datum.value) > 100 ? '' : datum.value == -40 ? '40' : '' + datum.value", "labelFontSize": 20}}
   }},
  {"data": {"values": [{}]}, "mark": {"type": "text", "text": "E", "fontSize": 30, "align": "center", "baseline": "middle", "color": "#000000"}, "encoding": {"x": {"datum": -35}, "y": {"datum": 202}}},
  {"data": {"values": [{}]}, "mark": {"type": "text", "text": "small followers (<10 deg)", "fontSize": 26, "align": "center", "baseline": "alphabetic"}, "encoding": {"x": {"datum": 0}, "y": {"datum": 161.7}}},
  {"data": {"values": [{}]}, "mark": {"type": "text", "text": "R=-0.17", "fontSize": 16, "align": "left", "baseline": "middle"}, "encoding": {"x": {"datum": 15.7}, "y": {"datum": -83}}},
  {"data": {"values": [{}]}, "mark": {"type": "text", "text": "P<10⁻⁶", "fontSize": 16, "align": "left", "baseline": "middle"}, "encoding": {"x": {"datum": 15.7}, "y": {"datum": -100.5}}}
 ]
}
]
}
